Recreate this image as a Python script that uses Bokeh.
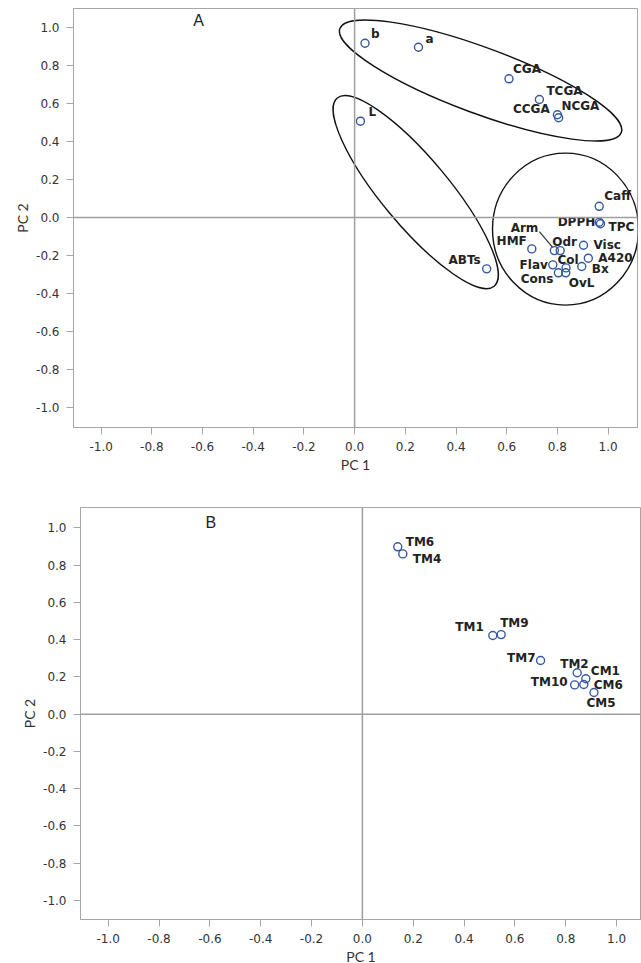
from bokeh.plotting import figure
from bokeh.models import Span, Label, ColumnDataSource, FixedTicker, PrintfTickFormatter, Range1d
from bokeh.embed import file_html
from bokeh.resources import INLINE
from bokeh.core.properties import value

# ---------------- data ----------------
tick_values = [-1.0, -0.8, -0.6, -0.4, -0.2, 0.0, 0.2, 0.4, 0.6, 0.8, 1.0]

# Panel A : variable loadings
a_names = ["b", "a", "CGA", "TCGA", "NCGA", "CCGA", "L", "Caff", "DPPH", "TPC",
           "Arm", "Odr", "Visc", "HMF", "A420", "Col", "Flav", "Bx", "Cons", "OvL", "ABTs"]
a_pc1 = [0.041, 0.252, 0.609, 0.729, 0.800, 0.805, 0.023, 0.965, 0.965, 0.970,
         0.788, 0.811, 0.903, 0.699, 0.922, 0.834, 0.782, 0.896, 0.804, 0.833, 0.521]
a_pc2 = [0.917, 0.896, 0.730, 0.621, 0.541, 0.525, 0.507, 0.059, -0.025, -0.033,
         -0.174, -0.174, -0.146, -0.165, -0.214, -0.265, -0.249, -0.258, -0.291, -0.291, -0.270]

# Panel A : cluster ellipses (centre in PC units)
grp_pc1 = [0.497, 0.241, 0.832]
grp_pc2 = [0.721, 0.134, -0.061]

# Panel B : sample scores
b_names = ["TM6", "TM4", "TM1", "TM9", "TM7", "TM2", "CM1", "TM10", "CM6", "CM5"]
b_pc1 = [0.139, 0.159, 0.513, 0.546, 0.701, 0.845, 0.879, 0.835, 0.871, 0.911]
b_pc2 = [0.898, 0.860, 0.422, 0.427, 0.288, 0.222, 0.190, 0.157, 0.159, 0.116]

# ---------------- styles ----------------
GRAY = "#a6a6a6"
ZERO = "#9e9e9e"
MARK = "#3558a0"
TXT = "#222222"
LBL_SIZE = "12px"

# label placement: (dx px, dy px, align)
place_a = {
    "b": (6, -9, "left"), "a": (7, -8, "left"), "CGA": (4, -10, "left"),
    "TCGA": (7, -9, "left"), "NCGA": (4, -9, "left"), "CCGA": (-9, -9, "right"),
    "L": (8, -9, "left"), "Caff": (5, -10, "left"), "DPPH": (-4, 0, "right"),
    "TPC": (8, 3, "left"), "Arm": (-16, -23, "right"), "Odr": (-8, -9, "left"),
    "Visc": (10, 0, "left"), "HMF": (-5, -8, "right"), "A420": (10, 0, "left"),
    "Col": (2, -8, "center"), "Flav": (-5, 0, "right"), "Bx": (10, 2, "left"),
    "Cons": (-5, 6, "right"), "OvL": (3, 10, "left"), "ABTs": (-6, -9, "right"),
}
place_b = {
    "TM6": (8, -5, "left"), "TM4": (10, 5, "left"), "TM1": (-9, -9, "right"),
    "TM9": (-1, -12, "left"), "TM7": (-5, -2, "right"), "TM2": (-17, -9, "left"),
    "CM1": (5, -8, "left"), "TM10": (-7, -3, "right"), "CM6": (10, 0, "left"),
    "CM5": (7, 10, "center"),
}
ell_w = [300, 245, 146]
ell_h = [66, 67, 152]
ell_ang = [-0.354, -0.876, 0.0]


def make_fig(xr, yr, fw, fh, mbl, mbr, mbt, mbb):
    p = figure(x_range=Range1d(*xr), y_range=Range1d(*yr), frame_width=fw, frame_height=fh,
               min_border_left=mbl, min_border_right=mbr, min_border_top=mbt, min_border_bottom=mbb,
               output_backend="svg", toolbar_location=None, tools="")
    p.grid.visible = False
    p.background_fill_color = "white"
    p.border_fill_color = "white"
    p.outline_line_color = GRAY
    p.outline_line_width = 1
    for ax in (p.xaxis[0], p.yaxis[0]):
        ax.ticker = FixedTicker(ticks=tick_values)
        ax.formatter = PrintfTickFormatter(format="%.1f")
        ax.axis_line_color = GRAY
        ax.major_tick_line_color = GRAY
        ax.major_tick_out = 7
        ax.major_tick_in = 0
        ax.minor_tick_line_color = None
        ax.major_label_standoff = 7
        ax.major_label_text_font = "DejaVu Sans"
        ax.major_label_text_font_size = "12px"
        ax.major_label_text_color = "#333333"
        ax.axis_label_text_font = "Lato"
        ax.axis_label_text_font_size = "14px"
        ax.axis_label_text_font_style = "normal"
        ax.axis_label_text_color = "#333333"
        ax.axis_label_standoff = 2
    p.xaxis.axis_label = "PC 1"
    p.yaxis.axis_label = "PC 2"
    p.add_layout(Span(location=0, dimension="height", line_color=ZERO, line_width=1.5))
    p.add_layout(Span(location=0, dimension="width", line_color=ZERO, line_width=1.5))
    return p


def add_labels(p, names, xs, ys, place):
    for align in ("left", "right", "center"):
        d = dict(x=[], y=[], text=[], xo=[], yo=[])
        for n, x, y in zip(names, xs, ys):
            dx, dy, al = place[n]
            if al != align:
                continue
            d["x"].append(x); d["y"].append(y); d["text"].append(n)
            d["xo"].append(dx); d["yo"].append(dy)
        if d["x"]:
            p.text(x="x", y="y", text="text", x_offset="xo", y_offset="yo",
                   source=ColumnDataSource(d), text_align=align, text_baseline="middle",
                   text_font=value("DejaVu Sans"), text_font_style="bold",
                   text_font_size=LBL_SIZE, text_color=TXT)


# ---------------- panel A ----------------
AX = (-1.109, 1.116)
AY = (-1.105, 1.10)
AFW, AFH = 564, 419
pa = make_fig(AX, AY, AFW, AFH, 73, 3, 8, 60)
pa.ellipse(x=grp_pc1, y=grp_pc2, width=ell_w, height=ell_h, angle=ell_ang,
           width_units="screen", height_units="screen",
           fill_color=None, line_color="#111111", line_width=1.4)
# leader line for Arm
sx = AFW / (AX[1] - AX[0]); sy = AFH / (AY[1] - AY[0])
ia = a_names.index("Arm")
pa.segment(x0=[a_pc1[ia] - 15 / sx], y0=[a_pc2[ia] + 19 / sy],
           x1=[a_pc1[ia] - 1.5 / sx], y1=[a_pc2[ia] + 3 / sy],
           line_color="#333333", line_width=1.2)
pa.scatter(a_pc1, a_pc2, marker="circle", size=8, fill_color=None,
           line_color=MARK, line_width=1.4)
add_labels(pa, a_names, a_pc1, a_pc2, place_a)
pa.add_layout(Label(x=-0.637, y=1.037, text="A", text_font="Liberation Sans",
                    text_font_size="16px", text_color=TXT, text_baseline="middle"))

# ---------------- panel B ----------------
BX = (-1.109, 1.098)
BY = (-1.102, 1.109)
pb = make_fig(BX, BY, 561, 412, 80, 0, 20, 41)
pb.scatter(b_pc1, b_pc2, marker="circle", size=8, fill_color=None,
           line_color=MARK, line_width=1.4)
add_labels(pb, b_names, b_pc1, b_pc2, place_b)
pb.add_layout(Label(x=-0.617, y=1.027, text="B", text_font="Liberation Sans",
                    text_font_size="16px", text_color=TXT, text_baseline="middle"))

open("out.html", "w").write(file_html([pa, pb], INLINE))
